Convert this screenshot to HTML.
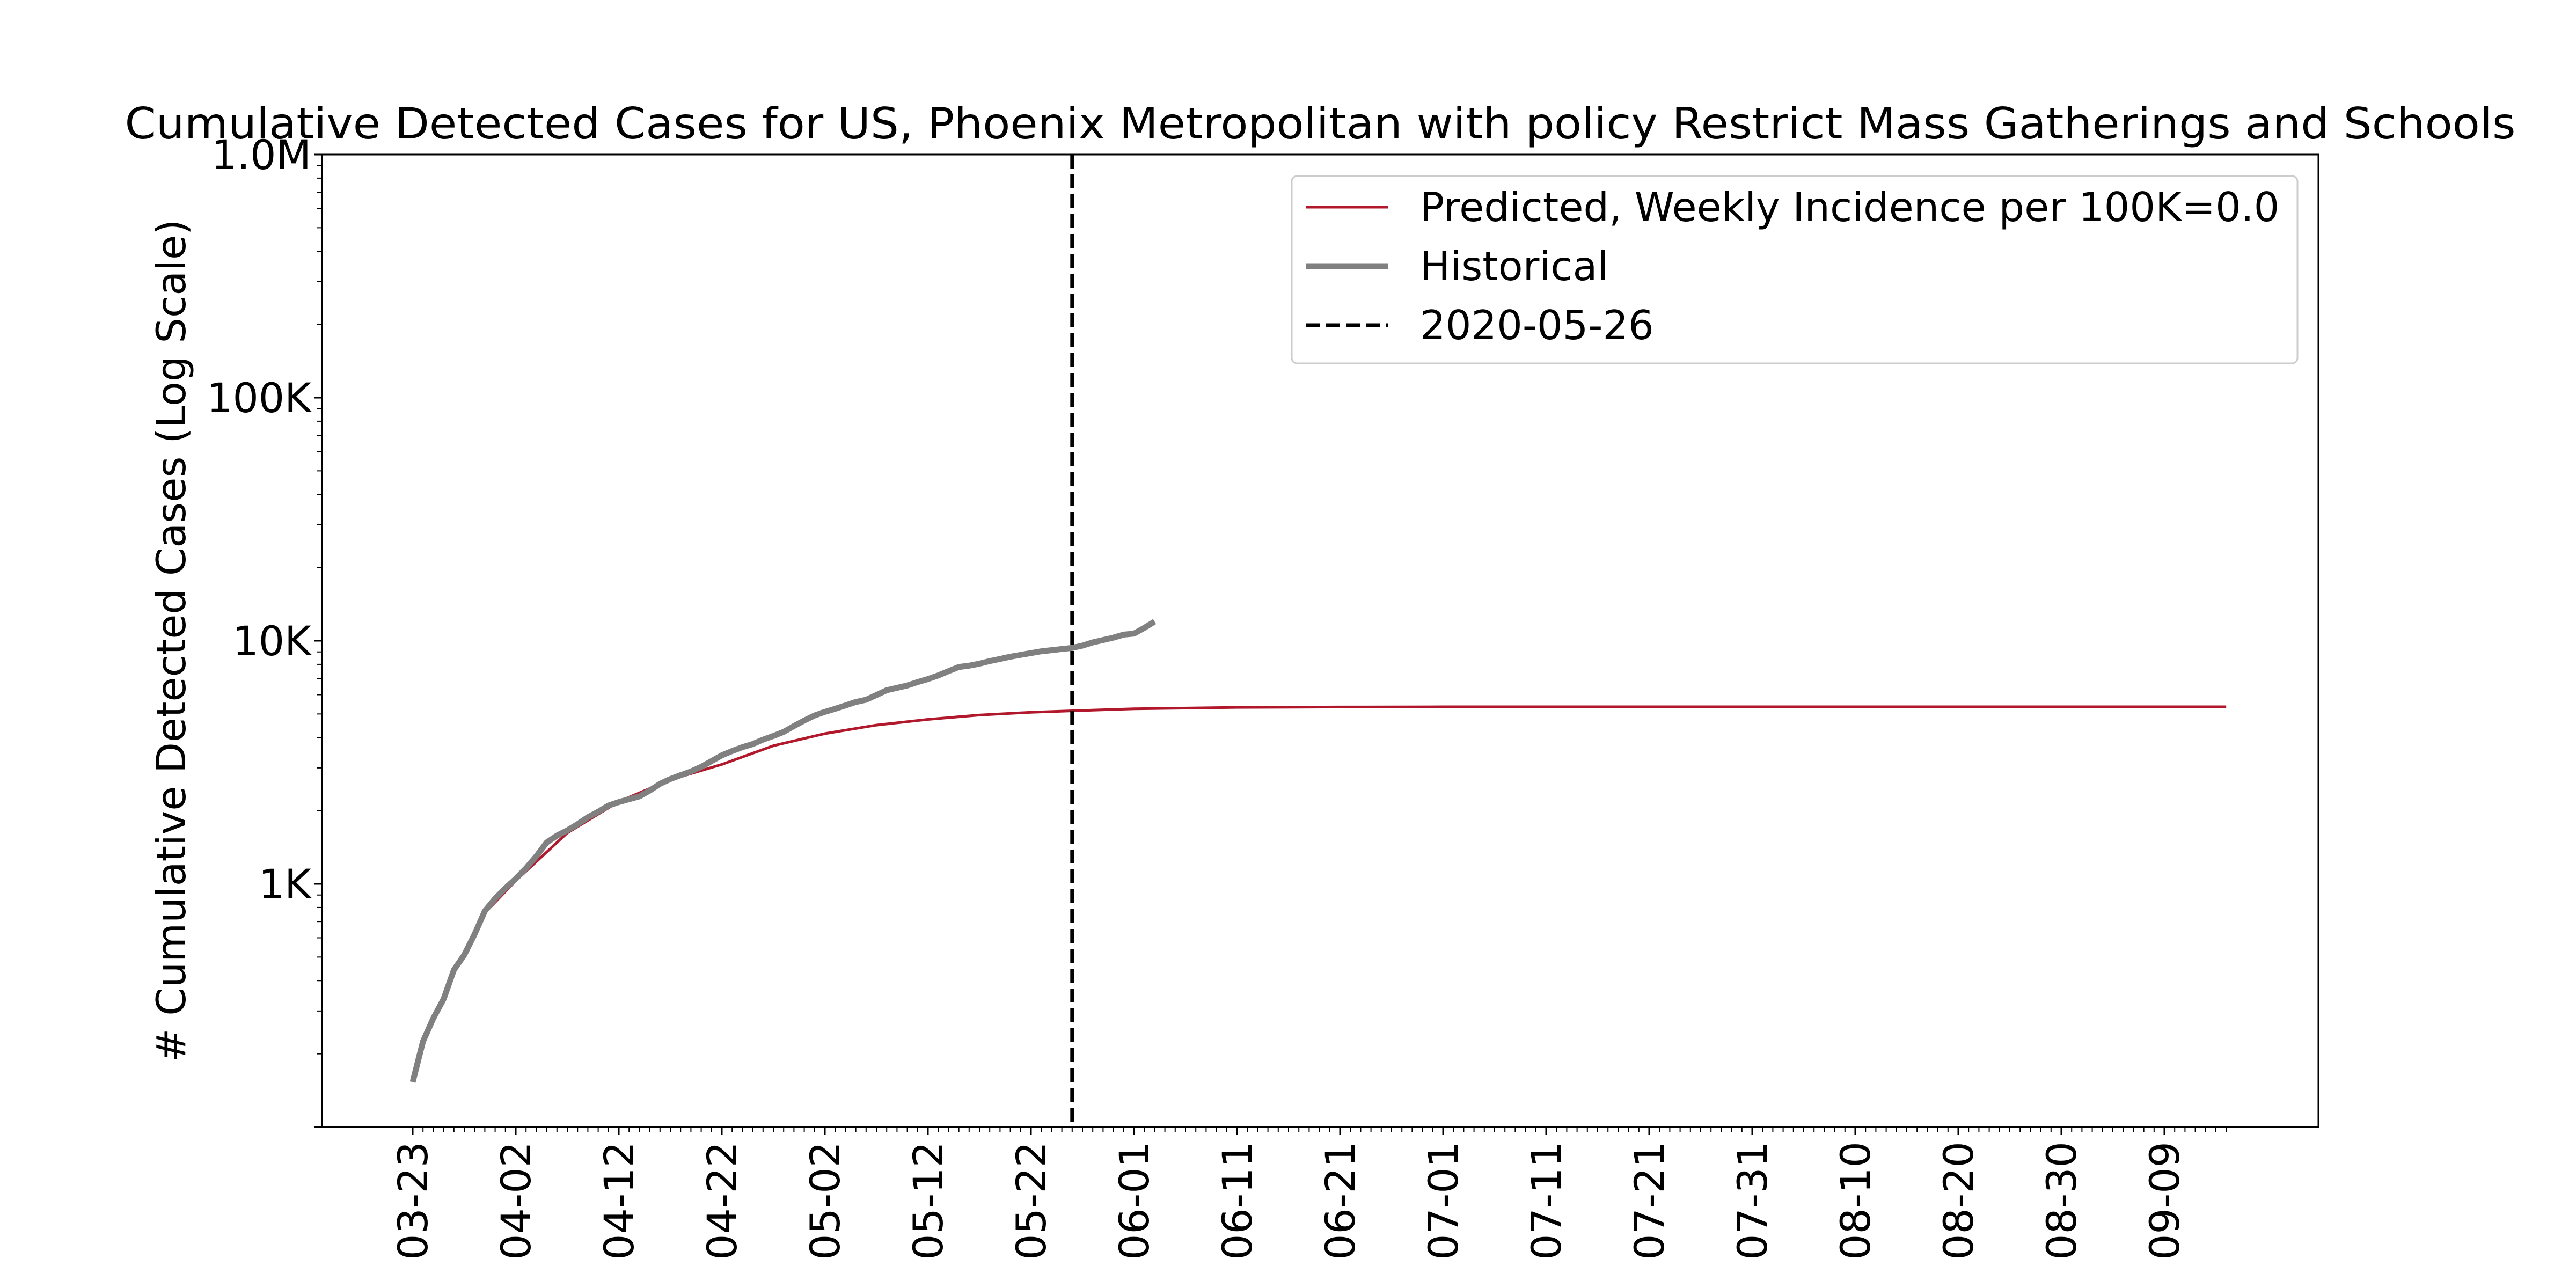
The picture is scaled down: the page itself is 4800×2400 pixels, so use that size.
<!DOCTYPE html>
<html><head><meta charset="utf-8"><style>
html,body{margin:0;padding:0;background:#fff;}
svg{display:block;font-family:"DejaVu Sans","Liberation Sans",sans-serif;}
</style></head><body>
<svg id="chart" width="4800" height="2400" viewBox="0 0 4800 2400" xmlns="http://www.w3.org/2000/svg">
<rect width="4800" height="2400" fill="#fff"/>
<text x="2460" y="258" font-size="80" text-anchor="middle" textLength="4455" lengthAdjust="spacingAndGlyphs">Cumulative Detected Cases for US, Phoenix Metropolitan with policy Restrict Mass Gatherings and Schools</text>
<text transform="translate(345,1194) rotate(-90)" font-size="75" text-anchor="middle"># Cumulative Detected Cases (Log Scale)</text>
<g id="plot"></g>
<rect x="600" y="288" width="3720" height="1812" fill="none" stroke="#000" stroke-width="3"/>
<g>
<rect x="2407" y="328" width="1874" height="349" rx="10" fill="#fff" fill-opacity="0.8" stroke="#ccc" stroke-width="3"/>
<line x1="2434" y1="386" x2="2587" y2="386" stroke="#b2182b" stroke-width="5"/>
<text x="2646" y="412" font-size="75">Predicted, Weekly Incidence per 100K=0.0</text>
<line x1="2434" y1="496" x2="2587" y2="496" stroke="#808080" stroke-width="11"/>
<text x="2646" y="522" font-size="75">Historical</text>
<line x1="2434" y1="606" x2="2587" y2="606" stroke="#000" stroke-width="7" stroke-dasharray="26,11"/>
<text x="2646" y="632" font-size="75">2020-05-26</text>
</g>
</svg>
<script>
const historical = [153,225,280,336,443,510,620,773,870,960,1050,1160,1300,1480,1580,1660,1760,1880,1980,2100,2170,2230,2290,2420,2580,2700,2800,2900,3030,3200,3380,3520,3650,3760,3920,4060,4220,4460,4700,4930,5100,5250,5420,5600,5720,5980,6260,6400,6550,6760,6960,7200,7500,7800,7900,8050,8250,8420,8600,8750,8900,9050,9150,9250,9350,9550,9850,10070,10300,10600,10700,11300,12000];
const predDays = [7,10,15,20,25,30,35,40,45,50,55,60,64,70,80,90,100,120,150,176];
const predicted = [760,1030,1620,2180,2680,3100,3700,4150,4500,4750,4950,5080,5150,5250,5320,5340,5350,5350,5350,5350];
const xTickLabels = ["03-23","04-02","04-12","04-22","05-02","05-12","05-22","06-01","06-11","06-21","07-01","07-11","07-21","07-31","08-10","08-20","08-30","09-09"];
const yTickValues = [1000,10000,100000,1000000];
const yTickLabels = ["1K","10K","100K","1.0M"];
const cutoffDay = 64;
const lastDay = 176;

const NS="http://www.w3.org/2000/svg";
const L=600,R=4320,T=288,B=2100,X0=769,PXD=19.2;
const x=d=>X0+d*PXD;
const y=v=>B-(Math.log10(v)-2)/4*(B-T);
const g=document.getElementById('plot');
function mk(t,a){const e=document.createElementNS(NS,t);for(const k in a)e.setAttribute(k,a[k]);g.appendChild(e);return e;}

for(let dec=2;dec<6;dec++){for(let m=2;m<10;m++){const v=m*Math.pow(10,dec);
 const t=mk('line',{x1:L-9,x2:L,y1:y(v),y2:y(v),stroke:'#000','stroke-width':2});
 
 }}
mk('line',{x1:L-15,x2:L,y1:B,y2:B,stroke:'#000','stroke-width':3});
yTickValues.forEach((v,i)=>{
 const t=mk('line',{x1:L-15,x2:L,y1:y(v),y2:y(v),stroke:'#000','stroke-width':3});
 
 
 const s=mk('text',{x:L-20,y:y(v)+27,'font-size':76,'text-anchor':'end'});
 s.textContent=yTickLabels[i];
 
 
});
for(let d=0;d<=lastDay;d++){
 const maj=d%10===0&&d/10<xTickLabels.length;
 const t=mk('line',{x1:x(d),x2:x(d),y1:B,y2:B+(maj?15:10),stroke:'#000','stroke-width':maj?3:2});
 
 
}
xTickLabels.forEach((lab,i)=>{
 const s=mk('text',{transform:`translate(${x(i*10)+27},2127) rotate(-90)`,'font-size':76,'text-anchor':'end'});
 s.textContent=lab;
 
 
});
const pp=mk('polyline',{points:predDays.map((d,i)=>x(d)+','+y(predicted[i])).join(' '),fill:'none',stroke:'#b2182b','stroke-width':5,'stroke-linejoin':'round'});


const hp=mk('polyline',{points:historical.map((v,i)=>x(i)+','+y(v)).join(' '),fill:'none',stroke:'#808080','stroke-width':11,'stroke-linejoin':'round'});


const cl=mk('line',{x1:x(cutoffDay),x2:x(cutoffDay),y1:T,y2:B,stroke:'#000','stroke-width':7,'stroke-dasharray':'26,11'});


</script>
</body></html>
